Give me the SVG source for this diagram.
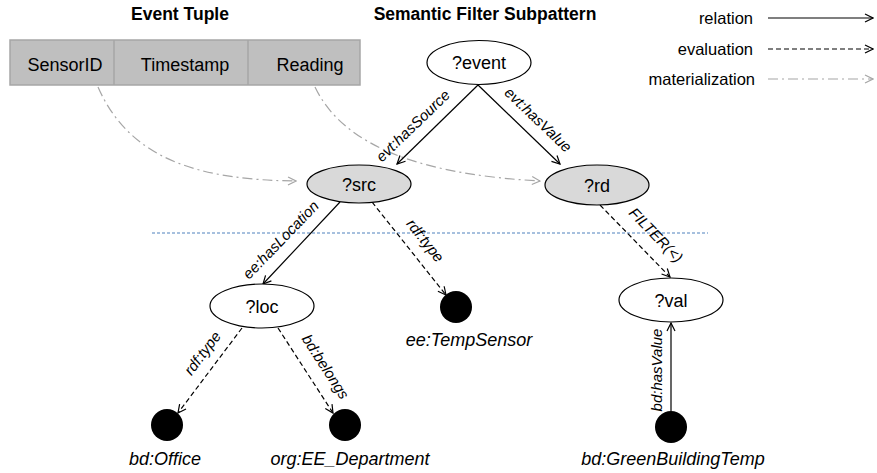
<svg xmlns="http://www.w3.org/2000/svg" width="877" height="473" viewBox="0 0 877 473">
<defs>
<style>
text{font-family:"Liberation Sans",Arial,sans-serif;fill:#000}
.title{font-size:17.5px;font-weight:bold}
.cell{font-size:18px}
.node{font-size:18px}
.lit{font-size:18px;font-style:italic}
.el{font-size:15px;font-style:italic}
.leg{font-size:16.5px}
.var{stroke:#000;stroke-width:1.2}
.rel{stroke:#000;stroke-width:1.2;fill:none;marker-end:url(#arr)}
.eva{stroke:#000;stroke-width:1.2;fill:none;stroke-dasharray:5,3;marker-end:url(#arr)}
.mat{stroke:#a6a6a6;stroke-width:1.2;fill:none;stroke-dasharray:10,4,2,4;marker-end:url(#arrg)}
</style>
<marker id="arr" viewBox="0 0 10 10" refX="9" refY="5" markerWidth="10" markerHeight="10" orient="auto" markerUnits="userSpaceOnUse"><path d="M1,1 L9,5 L1,9" fill="none" stroke="#000" stroke-width="1.2"/></marker>
<marker id="arrg" viewBox="0 0 10 10" refX="9" refY="5" markerWidth="10" markerHeight="10" orient="auto" markerUnits="userSpaceOnUse"><path d="M1,1 L9,5 L1,9" fill="none" stroke="#a6a6a6" stroke-width="1.2"/></marker>
</defs>
<rect width="877" height="473" fill="#fff"/>
<text class="title" x="180" y="20" text-anchor="middle">Event Tuple</text>
<text class="title" x="485" y="20" text-anchor="middle">Semantic Filter Subpattern</text>
<g id="legend">
<text class="leg" x="753" y="24" text-anchor="end">relation</text>
<line x1="768" y1="18" x2="873" y2="18" class="rel"/>
<text class="leg" x="753" y="55" text-anchor="end">evaluation</text>
<line x1="768" y1="49" x2="873" y2="49" class="eva"/>
<text class="leg" x="755" y="85" text-anchor="end">materialization</text>
<line x1="768" y1="79" x2="873" y2="79" class="mat"/>
</g>
<g id="tuple">
<rect x="10" y="40" width="350" height="45" fill="#bfbfbf" stroke="#a6a6a6" stroke-width="1.5"/>
<line x1="114" y1="40" x2="114" y2="85" stroke="#a6a6a6" stroke-width="1.5"/>
<line x1="248" y1="40" x2="248" y2="85" stroke="#a6a6a6" stroke-width="1.5"/>
<text class="cell" x="65" y="71" text-anchor="middle">SensorID</text>
<text class="cell" x="185" y="71" text-anchor="middle">Timestamp</text>
<text class="cell" x="310" y="71" text-anchor="middle">Reading</text>
</g>
<line x1="152" y1="233" x2="708" y2="233" stroke="#4f81bd" stroke-width="1" stroke-dasharray="3,2"/>
<g id="connectors">
<path class="mat" d="M98,87 C130,160 200,180 296,181"/>
<path class="mat" d="M315,87 C345,150 430,175 540,181"/>
<line class="rel" x1="478" y1="85" x2="397" y2="164"/>
<line class="rel" x1="478" y1="85" x2="560" y2="164"/>
<line class="rel" x1="340" y1="202" x2="263" y2="284"/>
<line class="eva" x1="372" y1="202" x2="446" y2="295"/>
<line class="eva" x1="600" y1="205" x2="670" y2="277"/>
<line class="rel" x1="671" y1="411" x2="671" y2="323"/>
<line class="eva" x1="242" y1="328" x2="178" y2="413"/>
<line class="eva" x1="278" y1="328" x2="333" y2="413"/>
<text class="el" transform="translate(415,128) rotate(-44)" y="2" text-anchor="middle">evt:hasSource</text>
<text class="el" transform="translate(536,122) rotate(43.6)" y="2" text-anchor="middle">evt:hasValue</text>
<text class="el" transform="translate(283,242) rotate(-46)" y="2" text-anchor="middle">ee:hasLocation</text>
<text class="el" transform="translate(422,243) rotate(51.6)" y="1" text-anchor="middle">rdf:type</text>
<text class="el" transform="translate(653,238) rotate(45.8)" y="1" text-anchor="middle">FILTER(&lt;)</text>
<text class="el" transform="translate(658,370) rotate(-90)" y="4" text-anchor="middle">bd:hasValue</text>
<text class="el" transform="translate(205,355) rotate(-53)" y="2" text-anchor="middle">rdf:type</text>
<text class="el" transform="translate(322,369) rotate(57)" y="1" text-anchor="middle">bd:belongs</text>
</g>
<g id="event"><ellipse cx="479" cy="62.5" rx="52" ry="22" fill="#fff" class="var"/><text class="node" x="479" y="69" text-anchor="middle">?event</text></g>
<g id="src"><ellipse cx="359" cy="184" rx="52" ry="19" fill="#d9d9d9" class="var"/><text class="node" x="359" y="191" text-anchor="middle">?src</text></g>
<g id="rd"><ellipse cx="597" cy="185" rx="52" ry="20" fill="#d9d9d9" class="var"/><text class="node" x="597" y="192" text-anchor="middle">?rd</text></g>
<g id="loc"><ellipse cx="262" cy="306" rx="52" ry="22" fill="#fff" class="var"/><text class="node" x="262" y="313" text-anchor="middle">?loc</text></g>
<g id="val"><ellipse cx="671" cy="300" rx="52" ry="22" fill="#fff" class="var"/><text class="node" x="671" y="307" text-anchor="middle">?val</text></g>
<g id="tempsensor"><circle cx="456" cy="307" r="16" fill="#000"/><text class="lit" x="469" y="346" text-anchor="middle">ee:TempSensor</text></g>
<g id="office"><circle cx="167" cy="425" r="16" fill="#000"/><text class="lit" x="165" y="465" text-anchor="middle">bd:Office</text></g>
<g id="eedept"><circle cx="345" cy="425" r="16" fill="#000"/><text class="lit" x="350" y="465" text-anchor="middle">org:EE_Department</text></g>
<g id="greentemp"><circle cx="671" cy="427" r="16" fill="#000"/><text class="lit" x="673" y="465" text-anchor="middle">bd:GreenBuildingTemp</text></g>
</svg>
